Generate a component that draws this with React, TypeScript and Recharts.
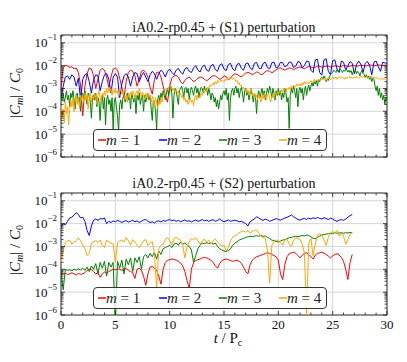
import React from "react";
import {
  LineChart,
  Line,
  XAxis,
  YAxis,
  CartesianGrid,
  ReferenceArea,
} from "recharts";

// log10(|C_m|/C_0), top panel (S1): dt = 0.2 for m=1,2 and dt = 0.1 for m=3,4
const s1m1 = [
  -3.0, -2.1, -1.98, -2.02, -2.08, -2.05, -2.15, -2.1, -2.3, -2.85,
  -4.2, -2.9, -2.35, -2.1, -2.15, -2.45, -3.0, -2.6, -2.2, -2.12,
  -2.2, -2.5, -2.95, -2.5, -2.15, -2.1, -2.2, -2.55, -2.95, -3.4,
  -2.7, -2.3, -2.2, -2.25, -2.45, -2.9, -2.6, -2.25, -2.2, -2.3,
  -2.5, -2.95, -3.25, -2.6, -2.3, -2.28, -2.5, -2.9, -3.3, -3.6,
  -2.9, -2.55, -2.45, -2.42, -2.5, -2.7, -2.8, -2.65, -2.55, -2.5,
  -2.6, -2.7, -2.65, -2.55, -2.5, -2.52, -2.6, -2.66, -2.6, -2.5,
  -2.44, -2.45, -2.52, -2.6, -2.55, -2.45, -2.48, -2.62, -2.55, -2.42,
  -2.36, -2.38, -2.45, -2.5, -2.4, -2.33, -2.3, -2.33, -2.4, -2.35,
  -2.28, -2.3, -2.4, -2.36, -2.26, -2.22, -2.25, -2.32, -2.25, -2.18,
  -2.12, -2.1, -2.15, -2.2, -2.15, -2.1, -2.12, -2.18, -2.12, -2.08,
  -2.06, -2.1, -2.14, -2.08, -2.04, -2.06, -2.1, -2.07, -2.03, -2.03,
  -2.07, -2.05, -2.02, -2.03, -2.06, -2.04, -2.01, -2.02, -2.05, -2.03,
  -2.0, -2.01, -2.04, -2.02, -1.99, -2.0, -2.03, -2.01, -1.98, -1.99,
  -2.02, -2.0, -1.97, -1.98, -2.01, -1.99, -1.97, -1.98, -2.0, -1.98,
  -1.97,
];

const s1m2 = [
  -3.4, -2.9, -2.5, -2.45, -2.6, -2.4, -2.5, -2.9, -2.55, -3.5,
  -2.6, -2.4, -2.35, -2.7, -3.2, -2.6, -2.4, -2.45, -3.1, -2.7,
  -2.4, -2.35, -2.6, -3.2, -2.5, -2.35, -2.5, -3.4, -2.8, -2.45,
  -2.35, -2.5, -2.9, -2.5, -2.3, -2.35, -2.7, -2.45, -2.3, -2.5,
  -2.7, -2.4, -2.25, -2.35, -2.6, -2.35, -2.2, -2.3, -2.5, -2.25,
  -2.15, -2.3, -2.4, -2.2, -2.12, -2.28, -2.38, -2.15, -2.08, -2.25,
  -2.3, -2.1, -2.0, -2.2, -2.28, -2.05, -1.98, -2.2, -2.25, -2.0,
  -1.95, -2.18, -2.25, -1.98, -1.92, -2.15, -2.22, -1.95, -1.9, -2.15,
  -2.22, -1.95, -1.9, -2.12, -2.2, -1.92, -1.88, -2.1, -2.18, -1.9,
  -1.86, -2.1, -2.15, -1.9, -1.85, -2.08, -2.14, -1.88, -1.85, -2.1,
  -2.05, -1.85, -1.88, -2.05, -2.0, -1.84, -1.86, -2.08, -2.02, -1.82,
  -1.85, -2.1, -2.0, -1.8, -1.82, -2.2, -2.3, -1.75, -1.72, -2.3,
  -2.42, -1.75, -1.7, -2.25, -2.4, -1.78, -1.75, -2.15, -2.3, -1.8,
  -1.85, -2.2, -2.0, -1.82, -1.9, -2.35, -1.95, -1.8, -1.95, -2.3,
  -1.9, -1.82, -2.0, -2.4, -1.85, -1.8, -2.05, -2.25, -1.85, -1.88,
  -1.9,
];

const s1m3 = [
  -3.3, -3.5, -3.2, -3.6, -3.4, -3.1, -3.5, -3.3, -3.8, -3.2,
  -3.4, -3.1, -3.5, -3.9, -3.3, -3.2, -3.6, -3.4, -4.0, -3.3,
  -3.2, -3.5, -3.1, -3.4, -3.7, -3.2, -3.3, -3.6, -4.3, -3.4,
  -3.3, -3.5, -3.2, -3.8, -3.4, -3.6, -4.4, -3.5, -3.3, -3.9,
  -3.4, -4.6, -3.5, -3.3, -3.7, -3.5, -4.0, -3.4, -4.8, -3.6,
  -3.4, -3.8, -4.2, -4.9, -3.7, -3.5, -3.9, -3.4, -3.3, -3.6,
  -3.4, -3.2, -3.5, -3.3, -3.9, -3.2, -3.4, -3.6, -3.3, -4.1,
  -3.3, -3.5, -3.2, -3.7, -3.4, -3.3, -4.0, -3.3, -3.6, -3.4,
  -3.2, -3.5, -3.3, -3.9, -4.4, -3.5, -3.6, -4.0, -4.8, -3.5,
  -3.3, -3.6, -3.2, -3.4, -3.1, -3.3, -3.5, -3.2, -3.0, -3.3,
  -3.1, -2.9, -3.2, -4.3, -3.3, -3.0, -3.1, -3.4, -3.7, -3.1,
  -3.0, -2.9, -3.1, -3.4, -3.0, -2.95, -3.2, -3.0, -3.5, -3.1,
  -2.95, -3.1, -3.3, -3.0, -2.9, -3.2, -3.0, -3.4, -3.1, -2.95,
  -3.0, -3.2, -2.9, -3.1, -3.0, -3.3, -3.0, -3.2, -3.5, -3.2,
  -3.3, -3.6, -3.4, -3.8, -3.5, -3.9, -3.6, -3.3, -3.5, -3.2,
  -3.1, -3.3, -3.0, -3.5, -3.2, -4.4, -3.4, -3.1, -3.0, -3.3,
  -3.0, -2.9, -3.2, -3.0, -3.4, -3.1, -2.95, -3.2, -3.6, -3.1,
  -3.0, -3.3, -3.1, -3.5, -3.2, -3.0, -3.3, -3.6, -3.2, -3.4,
  -4.1, -3.3, -3.1, -3.4, -3.2, -3.0, -3.3, -3.1, -3.5, -3.2,
  -3.0, -3.2, -2.9, -3.1, -3.4, -3.0, -3.2, -3.5, -3.1, -3.3,
  -3.0, -3.3, -3.1, -3.5, -3.2, -3.4, -3.0, -3.2, -3.6, -3.4,
  -4.75, -3.3, -3.0, -3.2, -2.9, -3.1, -3.4, -3.0, -3.8, -3.1,
  -2.95, -3.2, -3.0, -3.5, -3.1, -2.9, -3.3, -3.0, -2.85, -3.1,
  -2.9, -2.75, -2.9, -2.7, -2.8, -2.65, -2.9, -2.6, -2.7, -2.55,
  -2.5, -2.6, -2.45, -2.55, -2.7, -2.6, -2.65, -2.5, -2.4, -2.35,
  -2.3, -2.2, -2.25, -2.3, -2.18, -2.25, -2.2, -2.15, -2.22, -2.3,
  -2.2, -2.25, -2.15, -2.2, -2.28, -2.2, -2.3, -2.22, -2.4, -2.25,
  -2.3, -2.2, -2.35, -2.25, -2.3, -2.45, -2.3, -2.2, -2.35, -2.4,
  -2.5, -2.4, -2.55, -2.45, -2.6, -2.5, -2.7, -2.55, -2.6, -2.9,
  -3.1, -2.9, -3.3, -3.0, -3.4, -3.2, -3.5, -3.3, -3.7, -3.4,
  -3.5,
];

const s1m4 = [
  -3.7, -4.3, -3.9, -4.5, -3.6, -4.1, -3.8, -4.6, -3.9, -3.5,
  -3.8, -3.4, -4.0, -3.6, -3.3, -3.7, -3.4, -3.9, -3.3, -3.5,
  -3.3, -3.6, -3.2, -3.5, -3.3, -3.9, -3.4, -3.2, -3.6, -3.3,
  -3.5, -3.2, -3.4, -3.7, -3.3, -3.1, -3.4, -3.6, -3.2, -3.4,
  -3.1, -3.3, -3.0, -3.2, -2.95, -3.15, -3.0, -3.3, -3.05, -3.2,
  -3.0, -3.2, -3.1, -3.4, -3.15, -3.0, -3.25, -3.1, -3.3, -3.5,
  -3.3, -3.6, -3.2, -3.4, -3.15, -3.3, -3.1, -3.25, -3.45, -3.2,
  -3.1, -3.3, -3.0, -3.2, -3.4, -3.15, -3.3, -3.5, -3.2, -3.35,
  -3.2, -3.4, -3.3, -3.6, -3.35, -3.5, -3.8, -3.4, -3.6, -3.9,
  -3.5, -3.7, -3.4, -3.6, -3.3, -3.2, -3.1, -3.0, -3.05, -2.95,
  -2.9, -3.0, -2.95, -3.1, -3.0, -3.15, -3.05, -3.2, -3.1, -3.3,
  -3.2, -3.4, -3.3, -3.5, -3.4, -3.6, -3.5, -3.7, -3.55, -3.4,
  -3.6, -3.5, -3.75, -3.4, -3.3, -3.5, -3.25, -3.3, -3.4, -3.2,
  -3.3, -3.1, -3.2, -3.0, -3.1, -2.95, -3.0, -2.85, -2.9, -2.8,
  -2.75, -2.85, -2.7, -2.8, -2.65, -2.75, -2.7, -2.6, -2.7, -2.65,
  -2.7, -2.6, -2.65, -2.55, -2.6, -2.52, -2.58, -2.5, -2.6, -2.55,
  -2.6, -2.7, -2.65, -2.8, -2.75, -2.9, -2.85, -3.0, -2.95, -3.1,
  -3.05, -3.2, -3.1, -3.3, -3.15, -3.0, -3.2, -3.35, -3.2, -3.4,
  -3.3, -3.5, -3.25, -3.4, -3.6, -3.3, -3.45, -3.2, -3.35, -3.5,
  -3.3, -3.2, -3.45, -3.6, -3.35, -3.25, -3.4, -3.2, -3.3, -3.15,
  -3.25, -3.1, -3.2, -3.05, -3.15, -3.0, -3.1, -3.2, -3.0, -3.05,
  -2.95, -3.05, -2.9, -3.0, -2.85, -2.95, -2.9, -2.8, -2.9, -2.85,
  -2.8, -2.9, -2.75, -2.85, -2.7, -2.8, -2.75, -2.7, -2.8, -2.72,
  -2.65, -2.75, -2.7, -2.6, -2.68, -2.62, -2.7, -2.6, -2.65, -2.58,
  -2.62, -2.55, -2.6, -2.65, -2.55, -2.6, -2.52, -2.58, -2.62, -2.55,
  -2.5, -2.58, -2.55, -2.5, -2.6, -2.53, -2.48, -2.55, -2.52, -2.5,
  -2.55, -2.6, -2.5, -2.55, -2.52, -2.47, -2.55, -2.5, -2.58, -2.52,
  -2.5, -2.55, -2.48, -2.52, -2.56, -2.5, -2.45, -2.52, -2.48, -2.5,
  -2.53, -2.47, -2.5, -2.55, -2.48, -2.5, -2.45, -2.52, -2.5, -2.55,
  -2.5, -2.55, -2.6, -2.55, -2.58, -2.6, -2.55, -2.62, -2.58, -2.6,
  -2.6,
];

// bottom panel (S2): dt = 0.2, t = 0 .. 26.8
const s2m1 = [
  -4.15, -4.2, -4.18, -4.22, -4.2, -4.15, -4.2, -4.25, -4.18, -4.22,
  -4.2, -4.15, -4.05, -4.0, -4.02, -4.1, -4.2, -4.15, -4.35, -4.2,
  -4.12, -4.18, -4.1, -4.05, -4.0, -4.02, -3.98, -4.0, -4.05, -3.98,
  -3.97, -4.05, -4.1, -4.15, -4.4, -4.0, -3.95, -4.05, -4.3, -4.7,
  -4.2, -3.9, -3.88, -3.95, -4.05, -4.3, -4.65, -4.0, -3.7, -3.6,
  -3.58, -3.55, -3.56, -3.6, -3.65, -3.72, -3.85, -4.1, -4.5, -4.85,
  -4.0, -3.7, -3.62, -3.58, -3.55, -3.5, -3.48, -3.5, -3.55, -3.6,
  -3.7, -3.85, -3.95, -3.75, -3.62, -3.58, -3.55, -3.58, -3.62, -3.65,
  -3.62, -3.6, -3.65, -3.75, -3.9, -4.1, -4.2, -3.8, -3.6, -3.52,
  -3.45, -3.42, -3.38, -3.35, -3.3, -3.28, -3.3, -3.35, -3.4, -3.45,
  -3.6, -4.2, -4.45, -3.8, -3.45, -3.32, -3.28, -3.25, -3.3, -3.4,
  -3.5, -3.38, -3.3, -3.28, -3.35, -3.45, -3.55, -3.38, -3.3, -3.28,
  -3.25, -3.3, -3.35, -3.42, -3.5, -3.42, -3.35, -3.32, -3.38, -3.48,
  -3.65, -4.0, -4.45, -3.7, -3.35,
];

const s2m2 = [
  -2.15, -2.0, -2.05, -1.9, -1.75, -1.72, -1.62, -1.52, -1.6, -1.75,
  -1.72, -1.9, -2.3, -2.52, -2.1, -1.85, -1.8, -1.86, -1.78, -1.8,
  -1.75, -2.0, -1.9, -1.95, -1.88, -1.92, -1.86, -1.9, -1.95, -1.9,
  -1.87, -1.93, -1.9, -1.85, -1.92, -1.88, -1.95, -1.9, -1.84, -1.82,
  -1.9, -1.95, -1.92, -1.97, -1.9, -1.88, -1.93, -1.86, -1.9, -1.85,
  -1.82, -1.88, -1.84, -1.9, -1.86, -1.92, -1.88, -1.84, -1.9, -1.87,
  -1.93, -1.88, -1.84, -1.9, -1.87, -1.82, -1.88, -1.85, -1.9, -1.86,
  -1.83, -1.9, -1.86, -1.8, -1.87, -1.92, -1.88, -1.84, -1.9, -1.87,
  -1.85, -1.88, -1.92, -1.9, -1.95, -2.0, -2.1, -1.92, -1.85, -1.8,
  -1.7, -1.75, -1.82, -1.86, -1.8, -1.84, -1.9, -1.86, -1.82, -1.78,
  -1.82, -1.85, -1.8, -1.76, -1.72, -1.68, -1.62, -1.7, -1.76, -1.82,
  -1.85, -1.8, -1.77, -1.82, -1.76, -1.8, -1.74, -1.78, -1.73, -1.77,
  -1.8, -1.74, -1.78, -1.82, -1.76, -1.8, -1.86, -1.9, -1.85, -1.82,
  -1.86, -1.8, -1.72, -1.65, -1.6,
];

const s2m3 = [
  -4.1, -4.9, -4.0, -4.05, -4.02, -4.06, -4.0, -4.04, -3.98, -4.03,
  -3.95, -4.05, -3.9, -4.1, -3.85, -4.0, -3.75, -4.2, -3.7, -3.95,
  -3.65, -4.3, -3.7, -3.9, -3.7, -6.5, -3.65, -3.95, -3.6, -4.2,
  -3.55, -3.8, -3.5, -4.1, -3.5, -3.7, -3.45, -4.0, -3.45, -3.35,
  -3.5, -3.3, -3.45, -3.25, -3.55, -3.2, -3.35, -3.1, -3.05, -3.0,
  -2.95, -3.05, -2.9, -2.85, -2.95, -2.8, -2.9, -2.85, -2.95, -3.0,
  -3.15, -3.7, -3.4, -3.1, -2.95, -2.85, -2.88, -2.83, -2.87, -2.85,
  -2.9, -2.85, -3.0, -3.1, -3.15, -3.2, -3.22, -3.18, -3.1, -2.95,
  -2.85, -2.8, -2.72, -2.68, -2.65, -2.6, -2.58, -2.55, -2.57, -2.55,
  -2.53, -2.55, -2.52, -2.56, -2.54, -2.6, -2.65, -2.72, -2.75, -2.78,
  -2.8, -2.76, -2.72, -2.7, -2.66, -2.62, -2.6, -2.58, -2.55, -2.57,
  -2.55, -2.52, -2.54, -2.5, -2.52, -2.58, -2.64, -2.66, -2.6, -2.55,
  -2.5, -2.48, -2.46, -2.44, -2.42, -2.43, -2.4, -2.42, -2.41, -2.4,
  -2.42, -2.4, -2.41, -2.39, -2.4,
];

const s2m4 = [
  -3.75, -3.2, -2.85, -2.75, -2.72, -2.9, -2.8, -2.75, -2.62, -2.75,
  -2.95, -3.1, -3.4, -3.3, -2.85, -2.8, -2.75, -2.82, -2.72, -2.95,
  -3.05, -2.72, -2.8, -2.85, -2.9, -3.7, -2.85, -2.75, -2.72, -2.8,
  -2.6, -2.75, -2.95, -2.7, -2.8, -2.95, -3.05, -2.9, -2.75, -2.7,
  -2.95, -2.85, -2.78, -3.3, -4.85, -3.1, -2.95, -2.9, -2.7, -2.62,
  -2.75, -2.95, -2.65, -2.6, -2.68, -2.72, -2.95, -3.5, -3.0, -2.8,
  -2.65, -2.7, -2.62, -2.75, -2.9, -2.75, -2.68, -2.8, -2.72, -2.9,
  -2.75, -2.68, -2.8, -2.9, -3.0, -2.95, -3.2, -3.05, -2.75, -2.6,
  -2.55, -2.48, -2.4, -2.35, -2.32, -2.38, -2.3, -2.42, -2.34, -2.3,
  -2.28, -2.4, -2.55, -2.6, -2.65, -3.2, -4.6, -2.95, -2.78, -2.72,
  -2.75, -2.85, -2.95, -2.7, -2.68, -2.9, -3.0, -2.75, -2.62, -2.65,
  -2.7, -2.9, -3.3, -6.0, -2.85, -2.65, -3.4, -2.9, -2.5, -2.45,
  -2.5, -2.7, -2.95, -2.6, -2.4, -2.35, -2.4, -2.3, -2.55, -2.4,
  -2.55, -2.9, -2.7, -2.45, -2.4,
];

const X_TICKS = [
  0, 1, 2, 3, 4, 5, 6, 7, 8, 9, 10, 11, 12, 13, 14, 15,
  16, 17, 18, 19, 20, 21, 22, 23, 24, 25, 26, 27, 28, 29, 30,
];
const X_GRID = [5, 10, 15, 20, 25];
const DECADES = [-6, -5, -4, -3, -2, -1];
const MINOR_MULT = [2, 3, 4, 5, 6, 7, 8, 9];
const M_LABELS = ["1", "2", "3", "4"];
const COLORS = ["#ff0000", "#0000ff", "#008000", "#ffa500"];

const SERIF = '"Liberation Serif", "DejaVu Serif", serif';
const W = 407;
const PL = 61;
const PR = 387;
const Y_MIN = 1e-6;
const Y_MAX = Math.pow(10, -0.66);

const Y_GRID = DECADES.slice(1).map((d) => Math.pow(10, d));
const Y_TICKS = DECADES.flatMap((d) => [
  Math.pow(10, d),
  ...MINOR_MULT.map((k) => k * Math.pow(10, d)),
]).filter((v) => v <= Y_MAX);

type Row = { t: number; v: number };
const toRows = (logs: number[], dt: number): Row[] =>
  logs.map((lv, i) => ({ t: Math.round(i * dt * 100) / 100, v: Math.pow(10, lv) }));

const TOP_SERIES = [toRows(s1m1, 0.2), toRows(s1m2, 0.2), toRows(s1m3, 0.1), toRows(s1m4, 0.1)];
const BOTTOM_SERIES = [toRows(s2m1, 0.2), toRows(s2m2, 0.2), toRows(s2m3, 0.2), toRows(s2m4, 0.2)];

function makeXTick(pt: number, pb: number, labels: boolean) {
  return (props: any) => {
    const { x, payload } = props;
    const v = payload.value;
    const major = v % 5 === 0;
    const len = major ? 4 : 2.5;
    return (
      <g>
        <line x1={x} x2={x} y1={pb} y2={pb - len} stroke="#222" strokeWidth={0.8} />
        <line x1={x} x2={x} y1={pt} y2={pt + len} stroke="#222" strokeWidth={0.8} />
        {labels && major && (
          <text x={x} y={pb + 13.5} textAnchor="middle" fontSize={13} fontFamily={SERIF} fill="#111">
            {v}
          </text>
        )}
      </g>
    );
  };
}

function YTick(props: any) {
  const { y, payload } = props;
  const lg = Math.log10(payload.value);
  const e = Math.round(lg);
  const major = Math.abs(lg - e) < 1e-6;
  const len = major ? 4 : 2.5;
  return (
    <g>
      <line x1={PL} x2={PL + len} y1={y} y2={y} stroke="#222" strokeWidth={0.8} />
      <line x1={PR} x2={PR - len} y1={y} y2={y} stroke="#222" strokeWidth={0.8} />
      {major && (
        <text x={PL - 4} y={y + 4.5} textAnchor="end" fontSize={13} fontFamily={SERIF} fill="#111">
          10
          <tspan dy={-7} fontSize={9}>
            {"\u2212" + Math.abs(e)}
          </tspan>
        </text>
      )}
    </g>
  );
}

function Panel({
  height,
  pt,
  xh,
  series,
  labels,
}: {
  height: number;
  pt: number;
  xh: number;
  series: Row[][];
  labels: boolean;
}) {
  const pb = height - xh;
  return (
    <LineChart width={W} height={height} margin={{ top: pt, right: W - PR, bottom: 0, left: 0 }}>
      <CartesianGrid horizontalValues={Y_GRID} verticalValues={X_GRID} stroke="#d6d6d6" strokeWidth={1} />
      <XAxis
        type="number"
        dataKey="t"
        domain={[0, 30]}
        allowDataOverflow
        ticks={X_TICKS}
        interval={0}
        tickLine={false}
        axisLine={false}
        height={xh}
        tick={makeXTick(pt, pb, labels)}
      />
      <YAxis
        type="number"
        scale="log"
        domain={[Y_MIN, Y_MAX]}
        allowDataOverflow
        ticks={Y_TICKS}
        interval={0}
        tickLine={false}
        axisLine={false}
        width={PL}
        tick={<YTick />}
      />
      <ReferenceArea x1={0} x2={30} y1={Y_MIN} y2={Y_MAX} fill="none" stroke="#222" strokeWidth={1} ifOverflow="visible" />
      {series.map((rows, i) => (
        <Line
          key={i}
          data={rows}
          dataKey="v"
          type="linear"
          stroke={COLORS[i]}
          strokeWidth={1}
          dot={false}
          activeDot={false}
          isAnimationActive={false}
        />
      ))}
    </LineChart>
  );
}

function LegendBox({ top }: { top: number }) {
  const lefts = [4, 65, 125, 185];
  return (
    <div
      style={{
        position: "absolute",
        left: 93,
        top,
        width: 234,
        height: 22,
        border: "1px solid #333",
        borderRadius: 4,
        background: "rgba(255,255,255,0.85)",
        boxSizing: "border-box",
        fontFamily: SERIF,
        fontSize: 15,
        color: "#222",
      }}
    >
      {M_LABELS.map((m, i) => (
        <div
          key={m}
          style={{
            position: "absolute",
            left: lefts[i],
            top: 0,
            height: 20,
            display: "flex",
            alignItems: "center",
            whiteSpace: "nowrap",
          }}
        >
          <svg width={8} height={4} style={{ display: "block", marginRight: 0 }}>
            <line x1={0} x2={8} y1={2} y2={2} stroke={COLORS[i]} strokeWidth={1.5} />
          </svg>
          <span>
            <i>m</i> = {m}
          </span>
        </div>
      ))}
    </div>
  );
}

function YLabel({ cy }: { cy: number }) {
  return (
    <div
      style={{
        position: "absolute",
        left: 15 - 50,
        top: cy - 8,
        width: 100,
        height: 16,
        lineHeight: "16px",
        textAlign: "center",
        transform: "rotate(-90deg)",
        fontFamily: SERIF,
        fontSize: 15,
        whiteSpace: "nowrap",
      }}
    >
      |<i>C</i>
      <span style={{ fontSize: 10, position: "relative", top: 3 }}>
        <i>m</i>
      </span>
      | / <i>C</i>
      <span style={{ fontSize: 10, position: "relative", top: 3 }}>0</span>
    </div>
  );
}

function Title({ top, text }: { top: number; text: string }) {
  return (
    <div
      style={{
        position: "absolute",
        left: PL,
        top,
        width: PR - PL,
        textAlign: "center",
        fontFamily: SERIF,
        fontSize: 14,
        lineHeight: "14px",
        whiteSpace: "nowrap",
      }}
    >
      {text}
    </div>
  );
}

export default function App() {
  return (
    <div style={{ position: "absolute", left: 0, top: 0, width: W, height: 362, background: "#fff", color: "#111" }}>
      <div style={{ position: "absolute", left: 0, top: 0 }}>
        <Panel height={180} pt={35} xh={23} series={TOP_SERIES} labels={false} />
      </div>
      <div style={{ position: "absolute", left: 0, top: 180 }}>
        <Panel height={182} pt={13} xh={47} series={BOTTOM_SERIES} labels={true} />
      </div>
      <Title top={21} text="iA0.2-rp0.45 + (S1) perturbation" />
      <Title top={177} text="iA0.2-rp0.45 + (S2) perturbation" />
      <YLabel cy={93} />
      <YLabel cy={250} />
      <LegendBox top={129} />
      <LegendBox top={287} />
      <div
        style={{
          position: "absolute",
          left: 178,
          top: 332,
          width: 100,
          textAlign: "center",
          fontFamily: SERIF,
          fontSize: 15,
          lineHeight: "13px",
        }}
      >
        <i>t</i> / P<span style={{ fontSize: 10, position: "relative", top: 3 }}>c</span>
      </div>
    </div>
  );
}
